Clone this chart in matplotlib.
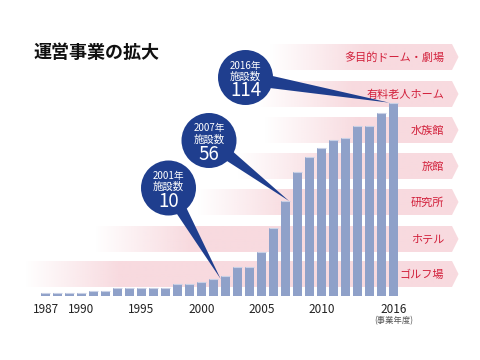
# Chart: 運営事業の拡大
# #############################################################################

# Import of Libraries
# -----------------------------------------------------------------------------

import numpy as np
import matplotlib
matplotlib.use("Agg")
import matplotlib.pyplot as plt
from matplotlib.patches import Polygon, Circle


# Data
# -----------------------------------------------------------------------------

years = list(range(1987, 2017))
facilities = [2, 2, 2, 2, 3, 3, 5, 5, 5, 5, 5, 7, 7, 8, 10,
              12, 17, 17, 26, 40, 56, 73, 82, 87, 92, 93, 100, 100, 108, 114]
tick_years = [1987, 1990, 1995, 2000, 2005, 2010, 2016]
band_labels = ["多目的ドーム・劇場", "有料老人ホーム", "水族館", "旅館",
               "研究所", "ホテル", "ゴルフ場"]
callout_years = [2001, 2007, 2016]


# Settings
# -----------------------------------------------------------------------------

plt.rcParams['font.family'] = ['Noto Sans CJK JP', 'DejaVu Sans']

bar_color = "#8fa1c9"
bar_top_color = "#c9d1e6"
pink = (248/255, 218/255, 223/255)
red = "#d2203b"
navy = "#1f3e8e"

# band layout in pixels (top, fade start)
band_tops = [44, 81, 117, 153, 189, 226, 261]
band_starts = [270, 258, 265, 238, 198, 95, 25]
band_ramp = 95
band_h = 26

# callout layout in pixels (circle centre, tip offset in years)
callout_centres = [(168.5, 188), (209, 140.5), (245.5, 77.5)]
callout_dx = [0.6, 0.3, -0.35]
callout_r = 27.5


# Functions
# -----------------------------------------------------------------------------

def draw_band(ax, top, start, label):
    bottom = top + band_h
    mid = (top + bottom) / 2
    xs = np.linspace(0, 460, 461)
    img = np.zeros((1, len(xs), 4))
    img[..., 0], img[..., 1], img[..., 2] = pink
    img[..., 3] = np.clip((xs - start) / band_ramp, 0, 1)
    im = ax.imshow(img, extent=(0, 460, bottom, top), aspect='auto',
                   interpolation='bilinear')
    shape = Polygon([(0, top), (452, top), (458.5, mid), (452, bottom), (0, bottom)],
                    closed=True, facecolor='none', edgecolor='none')
    ax.add_patch(shape)
    im.set_clip_path(shape)
    ax.text(444, mid + 0.5, label, color=red, fontsize=8, ha='right', va='center')


def to_pixel(ax, x, y):
    disp = ax.transData.transform((x, y))
    return(disp[0], 360 - disp[1])


def draw_callout(ov, centre, tip, year, value):
    cx, cy = centre
    d = np.array([tip[0] - cx, tip[1] - cy])
    d = d / np.hypot(*d)
    perp = np.array([-d[1], d[0]]) * 7.5
    wedge = Polygon([(cx + perp[0], cy + perp[1]), tip,
                     (cx - perp[0], cy - perp[1])],
                    closed=True, facecolor=navy, edgecolor='none')
    ov.add_patch(wedge)
    ov.add_patch(Circle((cx, cy), callout_r, facecolor=navy, edgecolor='none'))
    ov.text(cx, cy - 9, f"{year}年", color='white', fontsize=7,
            ha='center', va='baseline')
    ov.text(cx, cy + 2, "施設数", color='white', fontsize=7.5,
            ha='center', va='baseline')
    ov.text(cx, cy + 19, str(value), color='white', fontsize=13.5,
            ha='center', va='baseline')


# Beginning of the Programm
# -----------------------------------------------------------------------------

if __name__ == '__main__':
    fig = plt.figure(figsize=(4.8, 3.6), dpi=100)

    # background: title and bands
    bg = fig.add_axes([0, 0, 1, 1], zorder=0)
    for top, start, label in zip(band_tops, band_starts, band_labels):
        draw_band(bg, top, start, label)
    bg.text(33, 53, "運営事業の拡大", fontsize=13, fontweight='bold',
            color='#111111', ha='left', va='center')
    bg.set_xlim(0, 480)
    bg.set_ylim(360, 0)
    bg.axis('off')

    # bars
    ax = fig.add_axes([39.5/480, 64/360, 360/480, 203.5/360], zorder=1)
    ax.patch.set_alpha(0)
    ax.bar(years, facilities, width=0.75, color=bar_color, edgecolor='none')
    ax.hlines(facilities, np.array(years) - 0.375, np.array(years) + 0.375,
              color=bar_top_color, lw=0.8)
    ax.set_xlim(1986.5, 2016.5)
    ax.set_ylim(0, 120)
    ax.set_yticks([])
    ax.set_xticks(tick_years)
    ax.set_xticklabels([str(y) for y in tick_years], fontsize=8.5, color='#222222')
    ax.tick_params(axis='x', length=0, pad=5)
    for s in ax.spines.values():
        s.set_visible(False)
    ax.annotate("(事業年度)", xy=(2016, 0), xycoords='data', xytext=(0, -25),
                textcoords='offset pixels', ha='center', va='center',
                fontsize=6, color='#555555')

    # callouts
    ov = fig.add_axes([0, 0, 1, 1], zorder=2)
    ov.patch.set_alpha(0)
    ov.set_xlim(0, 480)
    ov.set_ylim(360, 0)
    ov.axis('off')
    for centre, dx, year in zip(callout_centres, callout_dx, callout_years):
        value = facilities[years.index(year)]
        tip = to_pixel(ax, year + dx, value)
        draw_callout(ov, centre, tip, year, value)

    fig.savefig("out.png", dpi=100)
